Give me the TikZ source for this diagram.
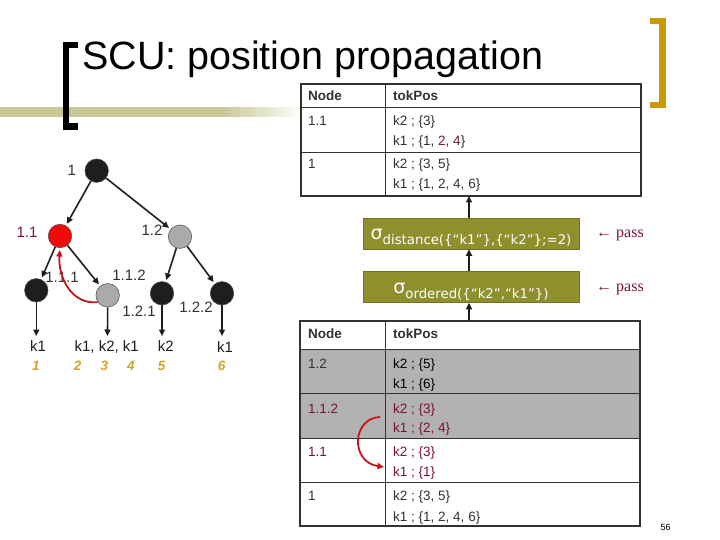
\documentclass[tikz,border=0pt]{standalone}
\usepackage{fontspec}
\setmainfont{Liberation Sans}
\newfontfamily\selfont{DejaVu Sans}
\newfontfamily\seriffont{Liberation Serif}
\usetikzlibrary{arrows.meta}

\definecolor{titlegold}{RGB}{204,153,0}
\definecolor{numgold}{RGB}{205,165,45}
\definecolor{barkhaki}{RGB}{200,200,150}
\definecolor{selolive}{RGB}{143,143,45}
\definecolor{darkred}{RGB}{120,20,50}
\definecolor{rowgray}{RGB}{178,178,178}
\definecolor{txtgray}{RGB}{50,50,50}
\definecolor{dotblack}{RGB}{30,30,30}
\definecolor{dotgray}{RGB}{170,170,170}
\definecolor{dotred}{RGB}{240,10,10}
\definecolor{arrowred}{RGB}{200,20,20}

\newcommand{\setfs}[1]{\fontsize{#1}{#1}\selectfont}
\newcommand{\selop}[1]{\smash{\raisebox{-6pt}{{\setfs{19}σ}\raisebox{-5pt}{\setfs{13.3}#1}}}}

\begin{document}
\begin{tikzpicture}[x=1pt, y=-1pt, every node/.style={inner sep=0pt, text=txtgray},
	>={Triangle[length=6.5pt, width=6pt]},
	dot/.style={circle, draw=black!70, line width=0.5pt, minimum size=23.5pt},
	edge/.style={->, dotblack, line width=1.6pt, shorten >=2pt},
	lbl/.style={anchor=base, font=\setfs{15}},
	cell/.style={anchor=base west, font=\setfs{13.5}},
	head/.style={anchor=base west, font=\setfs{13.5}\bfseries},
	selbox/.style={fill=selolive, draw=selolive!80!black, line width=0.5pt, minimum width=216pt, minimum height=31pt, font=\selfont, text=white},
	pass/.style={anchor=west, font=\seriffont\setfs{16}, text=darkred},
	flow/.style={->, dotblack, line width=2.4pt},
	back/.style={->, arrowred, line width=1.8pt}]
	\useasboundingbox (0,0) rectangle (720,540);
	
	% title
	\fill[barkhaki] (0,107) rectangle (220,117);
	\foreach \i in {0,...,15} {
		\pgfmathsetmacro{\pct}{100-\i*100/16}
		\pgfmathsetmacro{\x}{220+\i*5}
		\fill[barkhaki!\pct!white] (\x,107) rectangle (\x+5.3,117);
	}
	\draw[line width=6.3pt, line join=miter] (78,44.8) -- (66,44.8) -- (66,126.5) -- (78,126.5);
	\draw[titlegold, line width=6.5pt, line join=miter] (650,21) -- (662.5,21) -- (662.5,105) -- (650,105);
	\node[anchor=base west, font=\setfs{39.5}, text=black] (title) at (82,70) {SCU: position propagation};
	
	% tree
	\node[dot, fill=dotblack] (n1) at (96.7,170.7) {};
	\node[dot, fill=dotred] (n11) at (60,236) {};
	\node[dot, fill=dotgray] (n12) at (180,236.7) {};
	\node[dot, fill=dotblack] (n111) at (36.3,290.3) {};
	\node[dot, fill=dotgray] (n112) at (107.7,295.3) {};
	\node[dot, fill=dotblack] (n121) at (162,293.3) {};
	\node[dot, fill=dotblack] (n122) at (222,293.3) {};
	\node[lbl] (l1) at (71.7,175.5) {1};
	\node[lbl, text=darkred] (l11) at (27,237.5) {1.1};
	\node[lbl] (l12) at (152,236) {1.2};
	\node[lbl] (l111) at (62,282) {1.1.1};
	\node[lbl] (l112) at (129,280.5) {1.1.2};
	\node[lbl] (l121) at (139,316.7) {1.2.1};
	\node[lbl] (l122) at (196,312) {1.2.2};
	\draw[edge] (n1) -- (n11);
	\draw[edge] (n1) -- (n12);
	\draw[edge] (n11) -- (n111);
	\draw[edge] (n11) -- (n112);
	\draw[edge] (n12) -- (n121);
	\draw[edge] (n12) -- (n122);
	\foreach \n/\x in {n111/36.3, n112/107.5, n121/162, n122/222} {
		\coordinate (\n end) at (\x,336);
		\draw[edge, shorten >=0pt] (\n) -- (\n end);
	}
	\node[lbl, text=dotblack] (leafA) at (38,351.7) {k1};
	\node[lbl, text=dotblack] (leafB) at (106.7,351.7) {k1, k2, k1};
	\node[lbl, text=dotblack] (leafC) at (165.7,351.7) {k2};
	\node[lbl, text=dotblack] (leafD) at (225,352.5) {k1};
	\foreach \i/\x in {1/36, 2/77.7, 3/104.3, 4/131, 5/161.7, 6/221.7}
		\node[anchor=base, font=\setfs{13.5}\bfseries\itshape, text=numgold] (pos\i) at (\x,370) {\i};
	\draw[back, shorten >=2pt] (n112.215) .. controls (70,305) and (58,275) .. (n11.south);
	
	% upper table
	\filldraw[fill=white, draw=txtgray, line width=2pt] (301,84) rectangle (641,196);
	\foreach \y in {108,152.5}
		\draw[txtgray, line width=1pt] (301,\y) -- (641,\y);
	\draw[txtgray, line width=1pt] (385.5,84) -- (385.5,196);
	\node[head] (tAh1) at (308,100.7) {Node};
	\node[head] (tAh2) at (393,100.7) {tokPos};
	\node[cell] (tAa) at (308,126) {1.1};
	\node[cell] (tAa1) at (393,126) {k2 ; \{3\}};
	\node[cell] (tAa2) at (393,146) {k1 ; \{1, \textcolor{darkred}{2, 4}\}};
	\node[cell] (tAb) at (308,169) {1};
	\node[cell] (tAb1) at (393,169) {k2 ; \{3, 5\}};
	\node[cell] (tAb2) at (393,189) {k1 ; \{1, 2, 4, 6\}};
	\coordinate (tAbot) at (469,196);
	
	% selections
	\node[selbox] (selA) at (471,233.5) {\selop{distance(\{“k1”\},\{“k2”\};=2)}};
	\node[selbox] (selB) at (471,287) {\selop{ordered(\{“k2”,“k1”\})}};
	\node[pass] (passA) at (596,235) {← pass};
	\node[pass] (passB) at (596,289) {← pass};
	
	% lower table
	\filldraw[fill=white, draw=txtgray, line width=2pt] (300,321) rectangle (640,526);
	\fill[rowgray] (300,349) rectangle (640,438);
	\foreach \y in {349,393,438,482}
		\draw[txtgray, line width=1pt] (300,\y) -- (640,\y);
	\draw[txtgray, line width=1pt] (385,321) -- (385,526);
	\draw[txtgray, line width=2pt] (300,321) rectangle (640,526);
	\node[head] (tBh1) at (308,338.5) {Node};
	\node[head] (tBh2) at (393,338.5) {tokPos};
	\node[cell] (tBa) at (308,368) {1.2};
	\node[cell, text=black] (tBa1) at (393,368) {k2 ; \{5\}};
	\node[cell, text=black] (tBa2) at (393,388) {k1 ; \{6\}};
	\node[cell, text=darkred] (tBb) at (308,413) {1.1.2};
	\node[cell, text=darkred] (tBb1) at (393,413) {k2 ; \{3\}};
	\node[cell, text=darkred] (tBb2) at (393,432.5) {k1 ; \{2, 4\}};
	\node[cell, text=darkred] (tBc) at (308,456.7) {1.1};
	\node[cell, text=darkred] (tBc1) at (393,456.7) {k2 ; \{3\}};
	\node[cell, text=darkred] (tBc2) at (393,476.5) {k1 ; \{1\}};
	\node[cell] (tBd) at (308,500.5) {1};
	\node[cell] (tBd1) at (393,500.5) {k2 ; \{3, 5\}};
	\node[cell] (tBd2) at (393,521) {k1 ; \{1, 2, 4, 6\}};
	\coordinate (tBtop) at (469,321);
	\coordinate (swapS) at (380,417);
	\coordinate (swapE) at (384,467);
	\draw[back] (swapS) .. controls (352,418) and (350,462) .. (swapE);
	
	\draw[flow] (tBtop) -- (tBtop |- selB.south);
	\draw[flow] (tBtop |- selB.north) -- (tBtop |- selA.south);
	\draw[flow] (tBtop |- selA.north) -- (tAbot);
	
	\node[font=\setfs{9}, text=black] (pgnum) at (665.5,527) {56};
\end{tikzpicture}
\end{document}
